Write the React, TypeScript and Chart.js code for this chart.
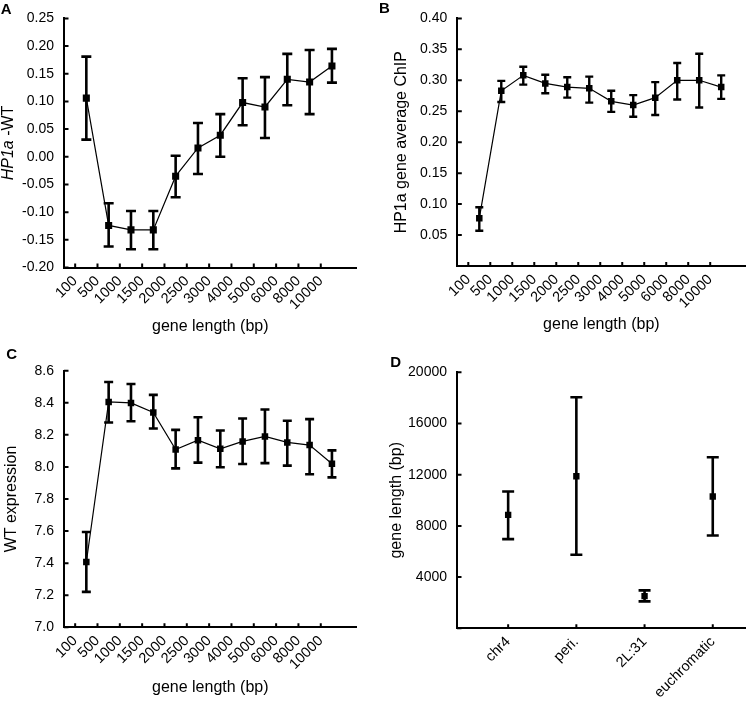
import React, { useEffect, useRef } from "react";
import { Chart, registerables } from "chart.js";

Chart.register(...registerables);

// ---------- DATA ----------
const lengthBins = ["100", "500", "1000", "1500", "2000", "2500", "3000", "4000", "5000", "6000", "8000", "10000"];

// Panel A: HP1a - WT
const hp1aWtMean = [0.106, -0.124, -0.132, -0.132, -0.035, 0.016, 0.039, 0.098, 0.090, 0.140, 0.135, 0.164];
const hp1aWtUpper = [0.181, -0.084, -0.098, -0.098, 0.002, 0.061, 0.077, 0.142, 0.144, 0.186, 0.193, 0.195];
const hp1aWtLower = [0.031, -0.162, -0.167, -0.167, -0.073, -0.031, 0.000, 0.057, 0.034, 0.093, 0.077, 0.134];
const yTicksA = [-0.2, -0.15, -0.1, -0.05, 0, 0.05, 0.1, 0.15, 0.2, 0.25];

// Panel B: HP1a gene average ChIP
const chipMean = [0.077, 0.283, 0.308, 0.295, 0.289, 0.287, 0.266, 0.260, 0.272, 0.300, 0.300, 0.289];
const chipUpper = [0.095, 0.299, 0.322, 0.309, 0.305, 0.306, 0.283, 0.276, 0.297, 0.328, 0.343, 0.308];
const chipLower = [0.057, 0.265, 0.293, 0.279, 0.272, 0.264, 0.249, 0.241, 0.244, 0.269, 0.256, 0.270];
const yTicksB = [0, 0.05, 0.1, 0.15, 0.2, 0.25, 0.3, 0.35, 0.4];

// Panel C: WT expression
const exprMean = [7.407, 8.405, 8.399, 8.339, 8.109, 8.167, 8.113, 8.159, 8.190, 8.153, 8.136, 8.020];
const exprUpper = [7.594, 8.530, 8.517, 8.449, 8.231, 8.310, 8.227, 8.302, 8.358, 8.288, 8.298, 8.103];
const exprLower = [7.221, 8.277, 8.285, 8.240, 7.991, 8.027, 7.998, 8.018, 8.024, 8.008, 7.954, 7.935];
const yTicksC = [7.0, 7.2, 7.4, 7.6, 7.8, 8.0, 8.2, 8.4, 8.6];

// Panel D: gene length by region
const regions = ["chr4", "peri.", "2L:31", "euchromatic"];
const lenMean = [8865, 11883, 2517, 10296];
const lenUpper = [10686, 18049, 2959, 13366];
const lenLower = [6966, 5743, 2101, 7252];
const yTicksD = [0, 4000, 8000, 12000, 16000, 20000];

// ---------- STYLE ----------
const FONT = "'Liberation Sans', Arial, Helvetica, sans-serif";
const YTICK_SIZE = 14;
const XTICK_SIZE = 14.5;
const TITLE_SIZE = 16;

interface PanelCfg {
  letter: string;
  letterX: number;
  letterY: number;
  left: number;
  top: number;
  width: number;
  height: number;
  chartLeft: number;
  chartTop: number;
  chartBottom: number;
  chartRight: number;
  categories: string[];
  catOffset: number;
  xMin: number;
  xMax: number;
  mean: number[];
  upper: number[];
  lower: number[];
  yTicks: number[];
  decimals: number;
  hideZero: boolean;
  showLine: boolean;
  pointRadius: number;
  cap: number;
  errWidth: number;
  yTitle: string;
  yTitleItalic?: string;
  yTitlePad: number;
  yTitleCenterX?: number;
  xTitle?: string;
  xTitlePad: number;
}

const panels: PanelCfg[] = [
  {
    letter: "A", letterX: 6.2, letterY: 10.3,
    left: 0, top: 0, width: 375, height: 340,
    chartLeft: 64, chartTop: 9.3, chartBottom: 267.5, chartRight: 356.5,
    categories: lengthBins, catOffset: 0.5, xMin: -0.5, xMax: 12.6,
    mean: hp1aWtMean, upper: hp1aWtUpper, lower: hp1aWtLower,
    yTicks: yTicksA, decimals: 2, hideZero: false,
    showLine: true, pointRadius: 5, cap: 10, errWidth: 2.6,
    yTitle: " -WT", yTitleItalic: "HP1a", yTitlePad: 0, yTitleCenterX: 8.5,
    xTitle: "gene length (bp)", xTitlePad: 5.3,
  },
  {
    letter: "B", letterX: 9.3, letterY: 9.3,
    left: 375, top: 0, width: 375, height: 340,
    chartLeft: 82.3, chartTop: 9.3, chartBottom: 266, chartRight: 373,
    categories: lengthBins, catOffset: 0.5, xMin: -0.5, xMax: 12.6,
    mean: chipMean, upper: chipUpper, lower: chipLower,
    yTicks: yTicksB, decimals: 2, hideZero: true,
    showLine: true, pointRadius: 4.6, cap: 8, errWidth: 2.4,
    yTitle: "HP1a gene average ChIP", yTitlePad: 18.7,
    xTitle: "gene length (bp)", xTitlePad: 7,
  },
  {
    letter: "C", letterX: 11.7, letterY: 15,
    left: 0, top: 340, width: 375, height: 362,
    chartLeft: 64, chartTop: 30.7, chartBottom: 287.3, chartRight: 356.5,
    categories: lengthBins, catOffset: 0.5, xMin: -0.5, xMax: 12.6,
    mean: exprMean, upper: exprUpper, lower: exprLower,
    yTicks: yTicksC, decimals: 1, hideZero: false,
    showLine: true, pointRadius: 4.6, cap: 9, errWidth: 2.6,
    yTitle: "WT expression", yTitlePad: 3.7,
    xTitle: "gene length (bp)", xTitlePad: 6.3,
  },
  {
    letter: "D", letterX: 20.7, letterY: 23.3,
    left: 375, top: 340, width: 375, height: 362,
    chartLeft: 82, chartTop: 32.3, chartBottom: 288.3, chartRight: 375,
    categories: regions, catOffset: 0, xMin: -0.75, xMax: 3.48,
    mean: lenMean, upper: lenUpper, lower: lenLower,
    yTicks: yTicksD, decimals: 0, hideZero: true,
    showLine: false, pointRadius: 4.5, cap: 12, errWidth: 2.6,
    yTitle: "gene length (bp)", yTitlePad: 13.7,
    xTitlePad: 0,
  },
];

function Panel({ cfg }: { cfg: PanelCfg }) {
  const ref = useRef<HTMLCanvasElement | null>(null);

  useEffect(() => {
    const canvas = ref.current;
    if (!canvas) return;

    const errorBars = {
      id: "errorBars" + cfg.letter,
      beforeDatasetsDraw(chart: any) {
        const ctx = chart.ctx;
        const xs = chart.scales.x;
        const ys = chart.scales.y;
        ctx.save();
        ctx.strokeStyle = "#000";
        ctx.lineWidth = cfg.errWidth;
        ctx.lineCap = "butt";
        cfg.lower.forEach((lo, i) => {
          const px = xs.getPixelForValue(i + cfg.catOffset);
          const pl = ys.getPixelForValue(lo);
          const pu = ys.getPixelForValue(cfg.upper[i]);
          ctx.beginPath();
          ctx.moveTo(px, pl);
          ctx.lineTo(px, pu);
          ctx.moveTo(px - cfg.cap / 2, pl);
          ctx.lineTo(px + cfg.cap / 2, pl);
          ctx.moveTo(px - cfg.cap / 2, pu);
          ctx.lineTo(px + cfg.cap / 2, pu);
          ctx.stroke();
        });
        ctx.restore();
      },
    };

    const deco = {
      id: "deco" + cfg.letter,
      afterDraw(chart: any) {
        const ctx = chart.ctx;
        const xs = chart.scales.x;
        const ys = chart.scales.y;
        const area = chart.chartArea;
        ctx.save();
        ctx.strokeStyle = "#000";
        ctx.lineWidth = 2;
        ctx.beginPath();
        xs.ticks.forEach((t: any) => {
          const px = xs.getPixelForValue(t.value);
          ctx.moveTo(px, area.bottom);
          ctx.lineTo(px, area.bottom - 4);
        });
        ys.ticks.forEach((t: any) => {
          const py = ys.getPixelForValue(t.value);
          ctx.moveTo(area.left, py);
          ctx.lineTo(area.left + 4.5, py);
        });
        ctx.stroke();

        // panel letter
        ctx.fillStyle = "#000";
        ctx.font = `bold 15px ${FONT}`;
        ctx.textAlign = "center";
        ctx.textBaseline = "middle";
        ctx.fillText(cfg.letter, cfg.letterX, cfg.letterY);

        // mixed-style y title
        if (cfg.yTitleItalic) {
          const italicFont = `italic ${TITLE_SIZE}px ${FONT}`;
          const normalFont = `${TITLE_SIZE}px ${FONT}`;
          ctx.font = italicFont;
          const w1 = ctx.measureText(cfg.yTitleItalic).width;
          ctx.font = normalFont;
          const w2 = ctx.measureText(cfg.yTitle).width;
          const total = w1 + w2;
          const cy = (area.top + area.bottom) / 2;
          ctx.translate(cfg.yTitleCenterX || 8, cy);
          ctx.rotate(-Math.PI / 2);
          ctx.textAlign = "left";
          ctx.font = italicFont;
          ctx.fillText(cfg.yTitleItalic, -total / 2, 0);
          ctx.font = normalFont;
          ctx.fillText(cfg.yTitle, -total / 2 + w1, 0);
        }
        ctx.restore();
      },
    };

    const chart = new Chart(canvas, {
      type: "scatter",
      data: {
        datasets: [
          {
            data: cfg.mean.map((v, i) => ({ x: i + cfg.catOffset, y: v })),
            showLine: cfg.showLine,
            borderColor: "#000",
            borderWidth: 1.2,
            backgroundColor: "#000",
            pointStyle: "rect",
            pointRadius: cfg.pointRadius,
            pointBackgroundColor: "#000",
            pointBorderColor: "#000",
            pointBorderWidth: 0,
            tension: 0,
          } as any,
        ],
      },
      options: {
        animation: false,
        responsive: false,
        maintainAspectRatio: false,
        layout: {
          padding: {
            left: 0,
            top: cfg.chartTop,
            right: cfg.width - cfg.chartRight,
            bottom: 0,
          },
        },
        plugins: {
          legend: { display: false },
          tooltip: { enabled: false },
        },
        scales: {
          x: {
            type: "linear",
            min: cfg.xMin,
            max: cfg.xMax,
            grid: { display: false, drawTicks: false },
            border: { display: true, color: "#000", width: 2 },
            afterBuildTicks: (s: any) => {
              s.ticks = cfg.categories.map((_, i) => ({ value: i }));
            },
            afterFit: (s: any) => {
              s.height = cfg.height - cfg.chartBottom;
            },
            ticks: {
              autoSkip: false,
              minRotation: 45,
              maxRotation: 45,
              padding: 5,
              color: "#000",
              font: { family: FONT, size: XTICK_SIZE },
              callback: (v: any) => cfg.categories[Math.round(Number(v))] ?? "",
            },
            title: {
              display: !!cfg.xTitle,
              text: cfg.xTitle || "",
              color: "#000",
              font: { family: FONT, size: TITLE_SIZE, lineHeight: 1 },
              padding: { top: 0, bottom: cfg.xTitlePad },
            },
          },
          y: {
            type: "linear",
            min: cfg.yTicks[0],
            max: cfg.yTicks[cfg.yTicks.length - 1],
            grid: { display: false, drawTicks: false },
            border: { display: true, color: "#000", width: 2 },
            afterBuildTicks: (s: any) => {
              s.ticks = cfg.yTicks.map((v) => ({ value: v }));
            },
            afterFit: (s: any) => {
              s.width = cfg.chartLeft;
            },
            ticks: {
              padding: 10,
              color: "#000",
              font: { family: FONT, size: YTICK_SIZE },
              callback: (v: any) => {
                const n = Number(v);
                if (cfg.hideZero && Math.abs(n) < 1e-9) return "";
                return n.toFixed(cfg.decimals);
              },
            },
            title: {
              display: !cfg.yTitleItalic,
              text: cfg.yTitle,
              color: "#000",
              font: { family: FONT, size: TITLE_SIZE, lineHeight: 1 },
              padding: { top: cfg.yTitlePad, bottom: 0 },
            },
          },
        },
      } as any,
      plugins: [errorBars, deco],
    });

    return () => {
      chart.destroy();
    };
  }, [cfg]);

  return (
    <canvas
      ref={ref}
      width={cfg.width}
      height={cfg.height}
      style={{
        position: "absolute",
        left: cfg.left,
        top: cfg.top,
        width: cfg.width,
        height: cfg.height,
      }}
    />
  );
}

export default function App() {
  return (
    <div
      style={{
        position: "absolute",
        left: 0,
        top: 0,
        width: 750,
        height: 702,
        background: "#fff",
        overflow: "hidden",
      }}
    >
      {panels.map((p) => (
        <Panel key={p.letter} cfg={p} />
      ))}
    </div>
  );
}
